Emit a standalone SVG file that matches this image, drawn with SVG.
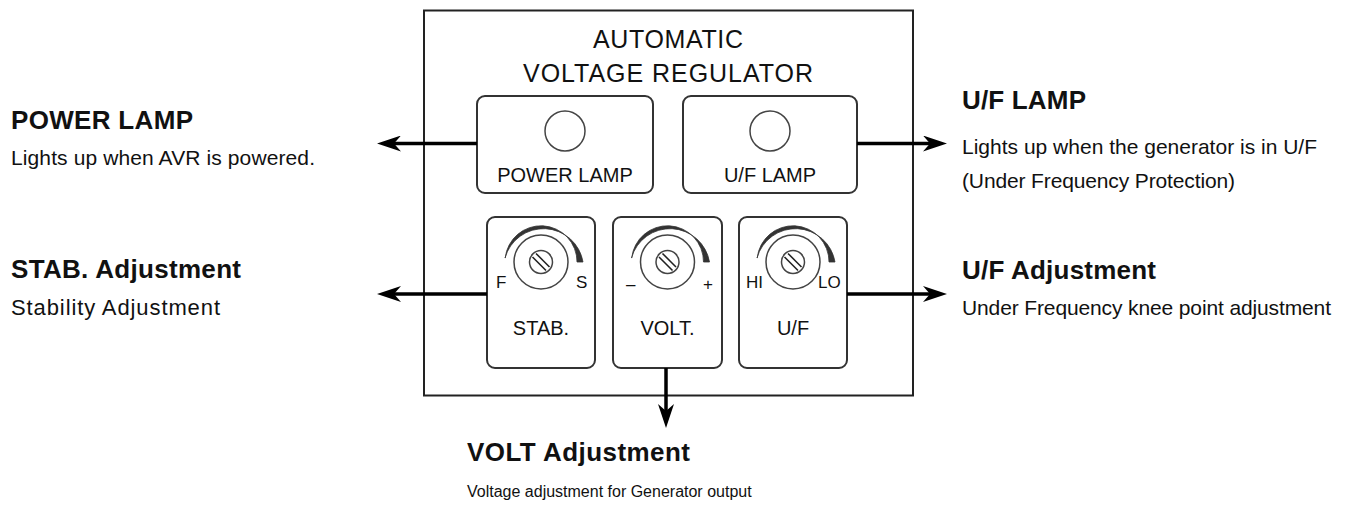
<svg xmlns="http://www.w3.org/2000/svg" width="1357" height="507" viewBox="0 0 1357 507">
<style>
text{font-family:"Liberation Sans",Arial,sans-serif;fill:#111}
.t{font-size:25px;text-anchor:middle}
.lbl{font-size:20px;text-anchor:middle}
.sm{font-size:17px}
.h{font-size:26px;font-weight:bold}
.d{font-size:21px}
.frame{fill:#fff;stroke:#222;stroke-width:2}
.box{fill:#fff;stroke:#333;stroke-width:2}
.ring{fill:none;stroke:#444;stroke-width:1.5}
.wedge{fill:#333;stroke:#333;stroke-width:0.8}
.slot{stroke:#222;stroke-width:1.6}
.arr{fill:none;stroke:#000;stroke-width:3.5;marker-end:url(#ah)}
</style>
<defs>
<marker id="ah" markerUnits="userSpaceOnUse" markerWidth="24" markerHeight="16" refX="7" refY="8" orient="auto">
<path d="M0,0 L24,8 L0,16 L7,8 Z" fill="#000"/>
</marker>
<g id="knob">
<path class="wedge" d="M-36,-4 A40,40 0 0 1 42,0 L36,0 A36,36 0 0 0 -35.8,-4 Z"/>
<circle class="ring" r="27"/>
<circle class="ring" r="11.5"/>
<line class="slot" x1="-8.5" y1="-5" x2="5" y2="8.5"/>
<line class="slot" x1="-5" y1="-8.5" x2="8.5" y2="5"/>
</g>
</defs>
<g id="avr">
<rect class="frame" x="424" y="10.5" width="489" height="385"/>
<text class="t" x="668" y="48" textLength="150">AUTOMATIC</text>
<text class="t" x="668" y="81.5" textLength="290">VOLTAGE REGULATOR</text>
</g>
<g id="power-lamp">
<rect class="box" x="477" y="96" width="176" height="97" rx="8"/>
<circle class="ring" cx="565" cy="131" r="20"/>
<text class="lbl" x="565" y="182">POWER LAMP</text>
</g>
<g id="uf-lamp">
<rect class="box" x="683" y="96" width="174" height="97" rx="8"/>
<circle class="ring" cx="770" cy="131" r="20"/>
<text class="lbl" x="770" y="182">U/F LAMP</text>
</g>
<g id="stab">
<rect class="box" x="487" y="217" width="108" height="151" rx="8"/>
<use href="#knob" x="541" y="262"/>
<text class="sm" x="496" y="288">F</text>
<text class="sm" x="576" y="288">S</text>
<text class="lbl" x="541" y="335">STAB.</text>
</g>
<g id="volt">
<rect class="box" x="613" y="217" width="109" height="151" rx="8"/>
<use href="#knob" x="667.5" y="262"/>
<text class="sm" x="626" y="290">–</text>
<text class="sm" x="703" y="290">+</text>
<text class="lbl" x="667.5" y="335">VOLT.</text>
</g>
<g id="uf">
<rect class="box" x="739" y="217" width="108" height="151" rx="8"/>
<use href="#knob" x="793" y="262"/>
<text class="sm" x="746" y="288">HI</text>
<text class="sm" x="818" y="288">LO</text>
<text class="lbl" x="793" y="335">U/F</text>
</g>
<g id="connectors">
<path class="arr" d="M477,143.5 H394"/>
<path class="arr" d="M487,294 H394"/>
<path class="arr" d="M857,143.5 H930"/>
<path class="arr" d="M847,294 H930"/>
<path class="arr" d="M666,368 V411"/>
</g>
<g id="label-power">
<text class="h" x="11" y="129" textLength="182">POWER LAMP</text>
<text class="d" x="11" y="165" textLength="304">Lights up when AVR is powered.</text>
</g>
<g id="label-stab">
<text class="h" x="11" y="278" textLength="230">STAB. Adjustment</text>
<text class="d" x="11" y="315" textLength="209" style="font-size:22px">Stability Adjustment</text>
</g>
<g id="label-uflamp">
<text class="h" x="962" y="109" textLength="124">U/F LAMP</text>
<text class="d" x="962" y="154" textLength="355">Lights up when the generator is in U/F</text>
<text class="d" x="962" y="188" textLength="273">(Under Frequency Protection)</text>
</g>
<g id="label-uf">
<text class="h" x="962" y="279" textLength="194">U/F Adjustment</text>
<text class="d" x="962" y="315" textLength="369">Under Frequency knee point adjustment</text>
</g>
<g id="label-volt">
<text class="h" x="467" y="461" textLength="223">VOLT Adjustment</text>
<text x="467" y="497" style="font-size:16px">Voltage adjustment for Generator output</text>
</g>
</svg>
